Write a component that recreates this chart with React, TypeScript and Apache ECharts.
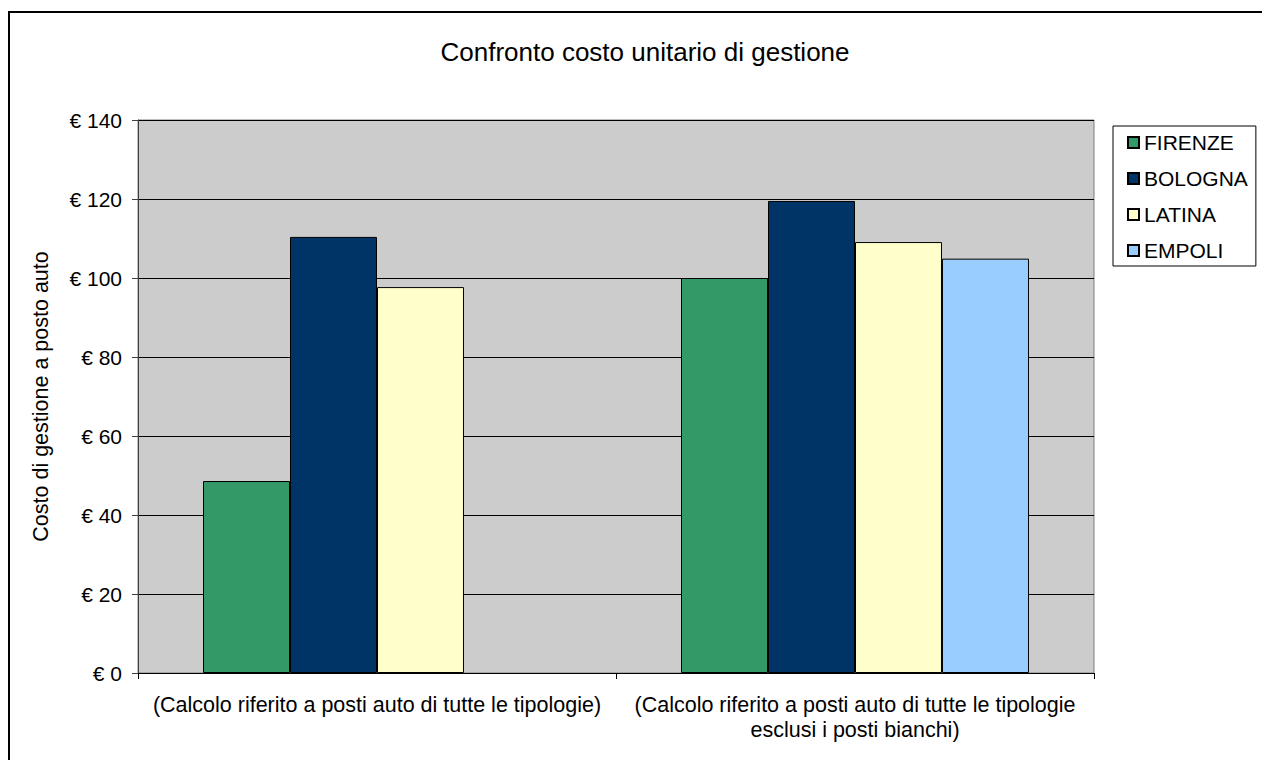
import React, { useEffect, useRef } from "react";
import * as echarts from "echarts";

const categories = [
  "(Calcolo riferito a posti auto di tutte le tipologie)",
  "(Calcolo riferito a posti auto di tutte le tipologie\nesclusi i posti bianchi)",
];
const seriesNames = ["FIRENZE", "BOLOGNA", "LATINA", "EMPOLI"];
const firenze = [48.6, 100.0];
const bologna = [110.4, 119.5];
const latina = [97.7, 109.1];
const empoli = [null, 104.9];
const seriesColors = ["#339966", "#003366", "#FFFFCC", "#99CCFF"];
const titleText = "Confronto costo unitario di gestione";
const yAxisName = "Costo di gestione a posto auto";

const FONT = "'Liberation Sans', Arial, sans-serif";

export default function App() {
  const ref = useRef<HTMLDivElement>(null);
  useEffect(() => {
    if (!ref.current) return;
    const chart = echarts.init(ref.current, null, { renderer: "svg" });
    const values = [firenze, bologna, latina, empoli];
    chart.setOption({
      animation: false,
      backgroundColor: "#ffffff",
      textStyle: { fontFamily: FONT, color: "#000" },
      graphic: [
        {
          type: "polyline",
          shape: { points: [[9, 900], [9, 12], [1400, 12]] },
          style: { fill: "none", stroke: "#000", lineWidth: 2 },
          silent: true,
          z: -10,
        },
      ],
      title: {
        text: titleText,
        left: 640,
        top: 34,
        textAlign: "center",
        textStyle: { fontFamily: FONT, fontSize: 26, fontWeight: "normal", color: "#000" },
      },
      legend: {
        orient: "vertical",
        left: 1113,
        top: 126,
        padding: [6, 8, 5, 14],
        itemGap: 15,
        itemWidth: 11,
        itemHeight: 11,
        icon: "rect",
        borderColor: "#000",
        borderWidth: 1,
        backgroundColor: "#fff",
        textStyle: { fontFamily: FONT, fontSize: 21, lineHeight: 21, color: "#000" },
        data: seriesNames,
      },
      grid: {
        left: 138,
        top: 120,
        width: 956,
        height: 553,
        show: true,
        backgroundColor: "#cccccc",
        borderColor: "#808080",
        borderWidth: 1,
      },
      xAxis: {
        type: "category",
        data: categories,
        boundaryGap: true,
        axisLine: { show: true, lineStyle: { color: "#000", width: 1 } },
        axisTick: { show: true, alignWithLabel: false, length: 6, lineStyle: { color: "#000" } },
        axisLabel: {
          fontFamily: FONT,
          fontSize: 21.5,
          lineHeight: 25,
          color: "#000",
          margin: 19,
          interval: 0,
          align: "center",
        },
      },
      yAxis: {
        type: "value",
        min: 0,
        max: 140,
        interval: 20,
        name: yAxisName,
        nameLocation: "middle",
        nameGap: 86,
        nameTextStyle: { fontFamily: FONT, fontSize: 21.5, color: "#000" },
        axisLine: { show: true, lineStyle: { color: "#404040", width: 1 } },
        axisTick: { show: true, length: 6, lineStyle: { color: "#404040" } },
        axisLabel: {
          fontFamily: FONT,
          fontSize: 21,
          color: "#000",
          margin: 16,
          formatter: (v: number) => "€ " + v,
        },
        splitLine: { show: true, lineStyle: { color: "#000", width: 1 } },
      },
      series: seriesNames.map((name, i) => ({
        name,
        type: "bar",
        data: values[i],
        barGap: "0%",
        barCategoryGap: "27.2%",
        itemStyle: { color: seriesColors[i], borderColor: "#000", borderWidth: 1 },
      })),
    });
    return () => chart.dispose();
  }, []);
  return (
    <div
      ref={ref}
      style={{ position: "absolute", left: 0, top: 0, width: 1262, height: 760 }}
    />
  );
}
